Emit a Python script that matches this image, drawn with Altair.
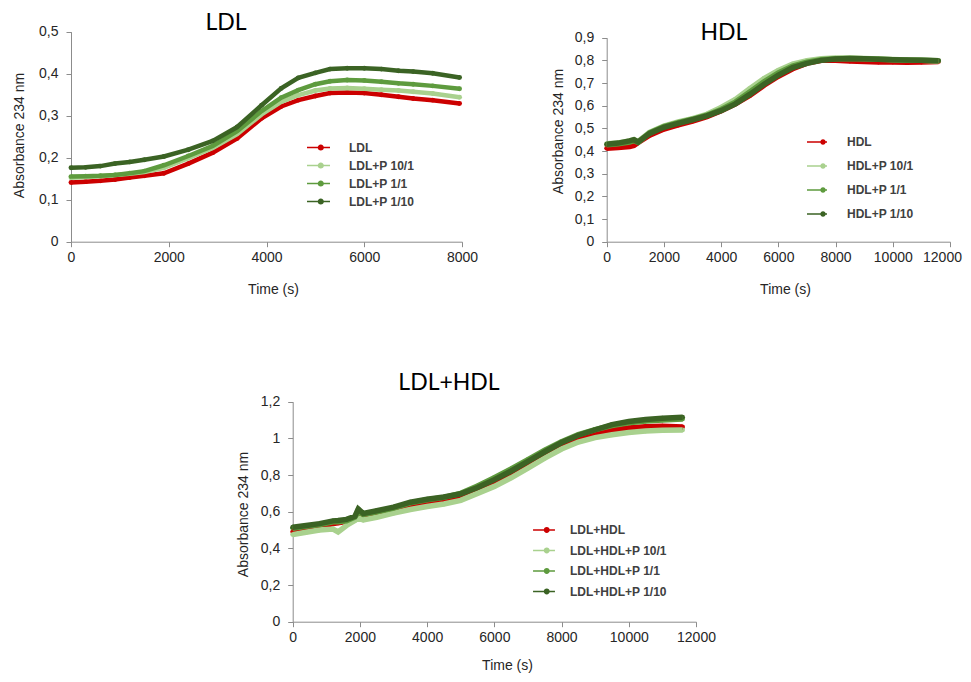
import altair as alt
import pandas as pd

# ---------------- data ----------------
COLORS = ["#cc0000", "#a9d18e", "#5e9b3e", "#3b6324"]

ldl_names = ["LDL", "LDL+P 10/1", "LDL+P 1/1", "LDL+P 1/10"]
ldl_t = [0, 300, 600, 900, 1200, 1500, 1900, 2400, 2900, 3400, 3900, 4300,
         4650, 5000, 5300, 5650, 6000, 6350, 6700, 7000, 7400, 7950]
ldl_red = [0.141, 0.143, 0.145, 0.148, 0.153, 0.157, 0.163, 0.186, 0.212, 0.246, 0.294, 0.322,
           0.337, 0.347, 0.354, 0.355, 0.354, 0.350, 0.345, 0.341, 0.337, 0.329]
ldl_p10 = [0.152, 0.154, 0.156, 0.159, 0.162, 0.166, 0.176, 0.199, 0.223, 0.256, 0.303, 0.333,
           0.349, 0.360, 0.365, 0.366, 0.364, 0.362, 0.360, 0.357, 0.353, 0.344]
ldl_p1 = [0.155, 0.156, 0.157, 0.159, 0.163, 0.168, 0.182, 0.204, 0.228, 0.263, 0.311, 0.343,
          0.361, 0.375, 0.382, 0.385, 0.384, 0.381, 0.377, 0.375, 0.371, 0.364]
ldl_p01 = [0.176, 0.177, 0.180, 0.186, 0.190, 0.195, 0.203, 0.219, 0.240, 0.273, 0.325, 0.365,
           0.390, 0.402, 0.411, 0.413, 0.413, 0.411, 0.407, 0.405, 0.401, 0.391]

hdl_names = ["HDL", "HDL+P 10/1", "HDL+P 1/1", "HDL+P 1/10"]
hdl_t = [0, 400, 800, 950, 1100, 1500, 2000, 2500, 3000, 3500, 4000, 4500, 5000,
         5500, 6000, 6500, 7000, 7500, 8000, 8500, 9000, 9500, 10000, 10500, 11000, 11600]
hdl_red = [0.412, 0.415, 0.420, 0.425, 0.438, 0.470, 0.497, 0.515, 0.532, 0.552, 0.578, 0.608, 0.645,
           0.690, 0.730, 0.763, 0.788, 0.800, 0.800, 0.797, 0.795, 0.793, 0.793, 0.792, 0.793, 0.795]
hdl_p10 = [0.432, 0.436, 0.445, 0.450, 0.442, 0.482, 0.510, 0.528, 0.543, 0.562, 0.592, 0.628, 0.675,
           0.720, 0.755, 0.783, 0.798, 0.807, 0.810, 0.810, 0.808, 0.806, 0.804, 0.802, 0.800, 0.797]
hdl_p1 = [0.428, 0.432, 0.440, 0.446, 0.438, 0.480, 0.508, 0.525, 0.540, 0.558, 0.583, 0.616, 0.660,
          0.705, 0.745, 0.775, 0.792, 0.803, 0.807, 0.808, 0.807, 0.805, 0.803, 0.801, 0.800, 0.798]
hdl_p01 = [0.430, 0.435, 0.445, 0.450, 0.440, 0.478, 0.505, 0.522, 0.538, 0.555, 0.578, 0.608, 0.650,
           0.695, 0.735, 0.768, 0.787, 0.800, 0.806, 0.808, 0.807, 0.805, 0.803, 0.802, 0.800, 0.798]

mix_names = ["LDL+HDL", "LDL+HDL+P 10/1", "LDL+HDL+P 1/1", "LDL+HDL+P 1/10"]
mix_t = [0, 400, 800, 1200, 1350, 1600, 1850, 1950, 2100, 2500, 3000, 3500, 4000, 4500,
         5000, 5500, 6000, 6500, 7000, 7500, 8000, 8500, 9000, 9500, 10000, 10500, 11000, 11600]
mix_red = [0.490, 0.505, 0.518, 0.535, 0.540, 0.548, 0.562, 0.575, 0.575, 0.585, 0.605, 0.628, 0.645, 0.658,
           0.677, 0.710, 0.750, 0.798, 0.852, 0.907, 0.957, 0.997, 1.025, 1.045, 1.057, 1.064, 1.066, 1.062]
mix_p10 = [0.475, 0.488, 0.500, 0.505, 0.490, 0.525, 0.552, 0.565, 0.555, 0.570, 0.592, 0.612, 0.628, 0.642,
           0.662, 0.700, 0.738, 0.785, 0.838, 0.892, 0.942, 0.980, 1.004, 1.020, 1.032, 1.040, 1.044, 1.046]
mix_p1 = [0.510, 0.520, 0.530, 0.545, 0.545, 0.550, 0.570, 0.600, 0.585, 0.600, 0.620, 0.648, 0.665, 0.678,
          0.700, 0.740, 0.785, 0.833, 0.884, 0.936, 0.982, 1.020, 1.048, 1.070, 1.085, 1.095, 1.100, 1.106]
mix_p01 = [0.515, 0.525, 0.535, 0.550, 0.552, 0.558, 0.575, 0.615, 0.590, 0.605, 0.625, 0.652, 0.668, 0.680,
           0.698, 0.732, 0.775, 0.822, 0.874, 0.927, 0.977, 1.017, 1.047, 1.075, 1.092, 1.103, 1.110, 1.115]

ldl_y_ticks = [0, 0.1, 0.2, 0.3, 0.4, 0.5]
hdl_y_ticks = [0, 0.1, 0.2, 0.3, 0.4, 0.5, 0.6, 0.7, 0.8, 0.9]
mix_y_ticks = [0, 0.2, 0.4, 0.6, 0.8, 1.0, 1.2]
ldl_x_ticks = [0, 2000, 4000, 6000, 8000]
long_x_ticks = [0, 2000, 4000, 6000, 8000, 10000, 12000]
panel_titles = ["LDL", "HDL", "LDL+HDL"]

# ---------------- layout / style ----------------
W, H = 955, 666
AXIS_FONT = "Liberation Sans"
LEG_FONT = "Liberation Sans"
TEXT_COL = "#262626"


def long_df(times, names, series):
    rows = []
    for name, vals in zip(names, series):
        for t, v in zip(times, vals):
            rows.append({"t": t, "v": v, "series": name})
    return pd.DataFrame(rows)


def legend_path(cx, r=0.27, h=0.07):
    bar = f"M-1,{-h}L1,{-h}L1,{h}L-1,{h}Z"
    circ = f"M{cx + r},0A{r},{r} 0 1,1 {cx - r},0A{r},{r} 0 1,1 {cx + r},0Z"
    return bar + circ


def panel(df, names, xdom, xticks, xrange, ydom, yticks, yrange,
          xtitle_x, xtitle_y, ytitle_x, ytitle_y,
          leg_x, leg_y, leg_size, leg_cx, leg_rowpad, leg_off, sw, last_label_shift=0):
    xaxis_kw = dict(values=xticks, format="d", orient="bottom", offset=yrange[0] - H,
                    title="Time (s)", titleX=xtitle_x, titleY=xtitle_y,
                    titleBaseline="middle", titleAlign="center",
                    labelPadding=4, tickSize=5, labelOverlap=False, labelFlush=False)
    if last_label_shift:
        xaxis_kw["labelOffset"] = {"condition": {"test": f"datum.value == {xdom[1]}",
                                                 "value": last_label_shift}, "value": 0}
    xaxis = alt.Axis(**xaxis_kw)
    yaxis = alt.Axis(values=yticks, labelExpr="replace(format(datum.value, '.1~f'), '.', ',')",
                     orient="left", offset=-xrange[0], title="Absorbance 234 nm",
                     titleX=ytitle_x, titleY=ytitle_y, titleBaseline="middle",
                     titleAlign="center", labelPadding=8, tickSize=5,
                     labelOverlap=False, labelFlush=False)
    x = alt.X("t:Q", scale=alt.Scale(domain=xdom, range=xrange, nice=False, zero=False), axis=xaxis)
    y = alt.Y("v:Q", scale=alt.Scale(domain=ydom, range=yrange, nice=False, zero=False), axis=yaxis)
    cscale = alt.Scale(domain=names, range=COLORS)
    legend = alt.Legend(orient="none", legendX=leg_x, legendY=leg_y, title=None,
                        symbolType=legend_path(leg_cx), symbolSize=leg_size,
                        symbolStrokeWidth=0, symbolOpacity=1,
                        labelFont=LEG_FONT, labelFontSize=12, labelFontWeight="bold",
                        labelColor="#404040", rowPadding=leg_rowpad, labelOffset=leg_off, padding=0)
    base = alt.Chart(df)
    # points first so that their (enabled) legend wins the merge
    pts = base.mark_point(filled=True, size=24, opacity=1).encode(
        x=x, y=y, color=alt.Color("series:N", scale=cscale, legend=legend))
    line = base.mark_line(strokeWidth=sw).encode(
        x=x, y=y, color=alt.Color("series:N", scale=cscale, legend=None))
    return alt.layer(pts, line)


def title_text(label, x, y):
    return alt.Chart(pd.DataFrame({"label": [label]})).mark_text(
        font="Lato", fontSize=23, color="black", align="center", baseline="middle"
    ).encode(text="label:N", x=alt.value(x), y=alt.value(y))


ldl_df = long_df(ldl_t, ldl_names, [ldl_red, ldl_p10, ldl_p1, ldl_p01])
hdl_df = long_df(hdl_t, hdl_names, [hdl_red, hdl_p10, hdl_p1, hdl_p01])
mix_df = long_df(mix_t, mix_names, [mix_red, mix_p10, mix_p1, mix_p01])

p_ldl = panel(ldl_df, ldl_names, [0, 8000], ldl_x_ticks, [63, 454], [0, 0.5], ldl_y_ticks, [233.7, 23.7],
              265, 48, -52, 127, 299, 128, 529, 0.2, -2, 19, 4.5)
p_hdl = panel(hdl_df, hdl_names, [0, 12000], long_x_ticks, [598.7, 942], [0, 0.9], hdl_y_ticks, [233.7, 29.7],
              777, 48, -48, 123, 799, 124, 400, 0.6, 8, 20, 5.5, last_label_shift=-8)
p_mix = panel(mix_df, mix_names, [0, 12000], long_x_ticks, [284.7, 688], [0, 1.2], mix_y_ticks, [613.7, 393.7],
              499, 44, -49, 506, 525, 511, 480, 0.25, 3.5, 15, 5.5)

chart = alt.layer(
    p_ldl, p_hdl, p_mix,
    title_text(panel_titles[0], 218, 15),
    title_text(panel_titles[1], 716, 25),
    title_text(panel_titles[2], 441, 375),
).resolve_scale(
    x="independent", y="independent", color="independent"
).resolve_axis(
    x="independent", y="independent"
).resolve_legend(
    color="independent"
).properties(
    width=W, height=H, autosize=alt.AutoSizeParams(type="none"), padding=0
).configure_view(
    strokeWidth=0
).configure_axis(
    grid=False, domainColor="#8c8c8c", tickColor="#8c8c8c",
    labelFont=AXIS_FONT, labelFontSize=14, labelColor=TEXT_COL,
    titleFont=AXIS_FONT, titleFontSize=14, titleFontWeight="normal", titleColor=TEXT_COL,
)

chart.save("out.html", embed_options={"renderer": "svg", "actions": False})
